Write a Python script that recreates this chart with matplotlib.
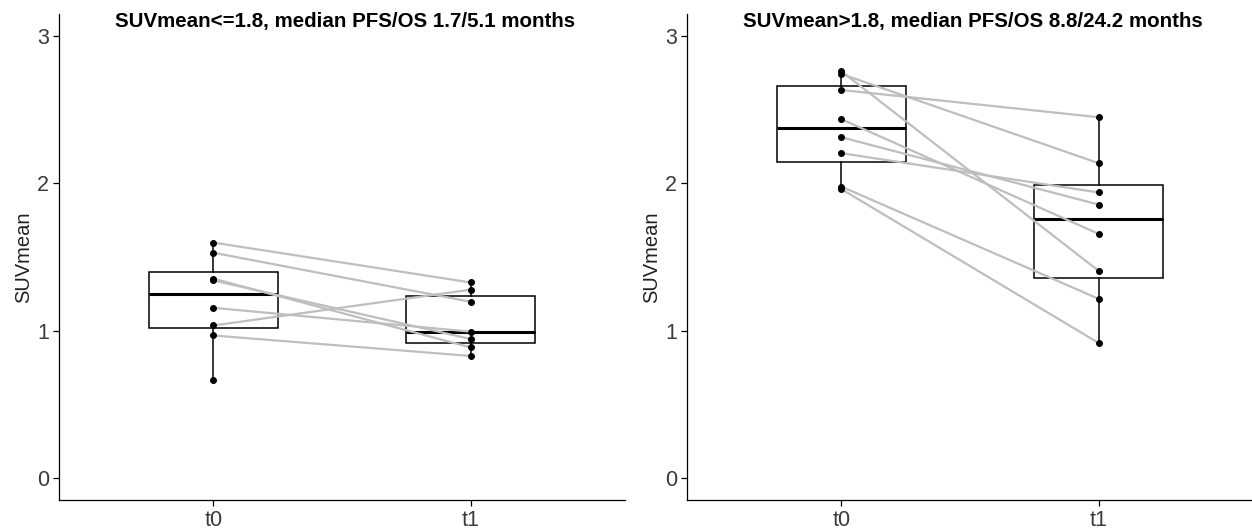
import numpy as np
import matplotlib
matplotlib.use("Agg")
import matplotlib.pyplot as plt

# ---- data ----
timepoints = ["t0", "t1"]
titles = ["SUVmean<=1.8, median PFS/OS 1.7/5.1 months",
          "SUVmean>1.8, median PFS/OS 8.8/24.2 months"]
y_label = "SUVmean"
y_ticks = [0, 1, 2, 3]

low_t0 = [1.598, 1.529, 1.353, 1.341, 1.155, 1.035, 0.967, 0.667]
low_t1 = [1.327, 1.196, 0.886, 0.943, 0.993, 1.278, 0.828, np.nan]

high_t0 = [2.761, 2.743, 2.634, 2.436, 2.313, 2.205, 1.978, 1.961]
high_t1 = [1.406, 2.137, 2.449, 1.657, 1.856, 1.938, 1.216, 0.916]

plt.rcParams['font.family'] = ['Liberation Sans', 'DejaVu Sans']

fig = plt.figure(figsize=(12.52, 5.29), dpi=100)
ax_l = fig.add_axes([59 / 1252, 1 - 500 / 529, 566 / 1252, 486 / 529])
ax_r = fig.add_axes([687 / 1252, 1 - 500 / 529, 566 / 1252, 486 / 529])

text_col = "#3a3a3a"

for ax, t0, t1, title in [(ax_l, low_t0, low_t1, titles[0]),
                          (ax_r, high_t0, high_t1, titles[1])]:
    t0 = np.asarray(t0, float)
    t1 = np.asarray(t1, float)
    data = [t0[~np.isnan(t0)], t1[~np.isnan(t1)]]
    ax.boxplot(data, positions=[1, 2], widths=0.5, showfliers=False,
               whis=1.5, patch_artist=True, showcaps=False,
               boxprops=dict(facecolor="white", edgecolor="black", linewidth=1.1),
               whiskerprops=dict(color="black", linewidth=1.1),
               medianprops=dict(color="black", linewidth=2.2),
               zorder=1)
    for a, b in zip(t0, t1):
        if np.isnan(a) or np.isnan(b):
            continue
        ax.plot([1, 2], [a, b], color="#BEBEBE", linewidth=1.6, zorder=2,
                solid_capstyle="butt")
    ax.scatter(np.full(len(data[0]), 1), data[0], s=16, color="black", zorder=3)
    ax.scatter(np.full(len(data[1]), 2), data[1], s=16, color="black", zorder=3)

    ax.set_xlim(0.4, 2.6)
    ax.set_ylim(-0.15, 3.15)
    ax.set_xticks([1, 2])
    ax.set_xticklabels(timepoints)
    ax.set_yticks(y_ticks)
    ax.set_yticklabels([str(v) for v in y_ticks])
    ax.tick_params(axis="both", labelsize=15.5, colors="black", labelcolor=text_col,
                   length=4, width=0.9, direction="out", pad=3)
    for s in ["top", "right"]:
        ax.spines[s].set_visible(False)
    for s in ["left", "bottom"]:
        ax.spines[s].set_linewidth(0.9)
        ax.spines[s].set_color("black")
    ax.set_ylabel(y_label, fontsize=14.5, color="#222222", labelpad=3)
    bb = ax.get_position()
    fig.text(bb.x0 + bb.width / 2 + 3 / 1252, 1 - 21 / 529, title, ha="center",
             va="center", fontsize=14.8, fontweight="bold", color="black")

fig.savefig("out.png", dpi=100)
